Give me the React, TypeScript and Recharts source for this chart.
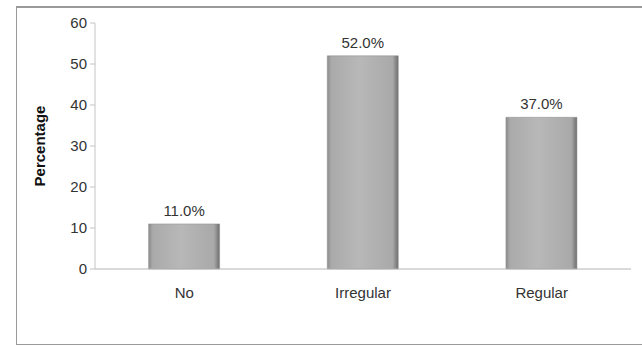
import { Bar, BarChart, LabelList, XAxis, YAxis } from "recharts";

// Attendance categories and their share (%)
const categories = ["No", "Irregular", "Regular"];
const percentages = [11.0, 52.0, 37.0];
const yTicks = [0, 10, 20, 30, 40, 50, 60];

const data = categories.map((name, i) => ({ name, value: percentages[i] }));

const FONT = "Arial, 'Liberation Sans', sans-serif";

export default function App() {
  return (
    <div style={{ position: "absolute", left: 0, top: 0, width: 642, height: 347, background: "#fff", overflow: "hidden" }}>
      {/* frame around the chart, open on the right */}
      <div
        style={{
          position: "absolute",
          left: 16,
          top: 6,
          width: 640,
          height: 336,
          border: "1px solid #9a9a9a",
          borderTopWidth: 2,
        }}
      />
      <BarChart
        width={642}
        height={347}
        data={data}
        margin={{ top: 23, right: 11, left: 0, bottom: 0 }}
        barCategoryGap="30%"
        style={{ position: "absolute", left: 0, top: 0, fontFamily: FONT }}
      >
        <defs>
          <linearGradient id="barFill" x1="0" y1="0" x2="1" y2="0">
            <stop offset="0%" stopColor="#8c8c8c" />
            <stop offset="6%" stopColor="#aaaaaa" />
            <stop offset="45%" stopColor="#b8b8b8" />
            <stop offset="92%" stopColor="#a9a9a9" />
            <stop offset="100%" stopColor="#6e6e6e" />
          </linearGradient>
        </defs>
        <XAxis
          dataKey="name"
          height={78}
          axisLine={{ stroke: "#b4b4b4" }}
          tickLine={false}
          tickSize={6}
          tickMargin={12}
          tick={{ fontSize: 15, fill: "#333", fontFamily: FONT }}
        />
        <YAxis
          width={95}
          domain={[0, 60]}
          ticks={yTicks}
          interval={0}
          axisLine={{ stroke: "#c4c4c4" }}
          tickLine={{ stroke: "#c4c4c4" }}
          tickSize={5}
          tickMargin={3}
          tick={{ fontSize: 15, fill: "#333", fontFamily: FONT }}
          label={{
            value: "Percentage",
            angle: -90,
            position: "insideLeft",
            offset: 40,
            style: { textAnchor: "middle", fontWeight: "bold", fontSize: 15, fill: "#111", fontFamily: FONT },
          }}
        />
        <Bar dataKey="value" fill="url(#barFill)" stroke="#8a8a8a" strokeWidth={0.5} isAnimationActive={false}>
          <LabelList
            dataKey="value"
            position="top"
            offset={8}
            formatter={(v: number) => `${v.toFixed(1)}%`}
            style={{ fontSize: 15, fill: "#333", fontFamily: FONT }}
          />
        </Bar>
      </BarChart>
    </div>
  );
}
